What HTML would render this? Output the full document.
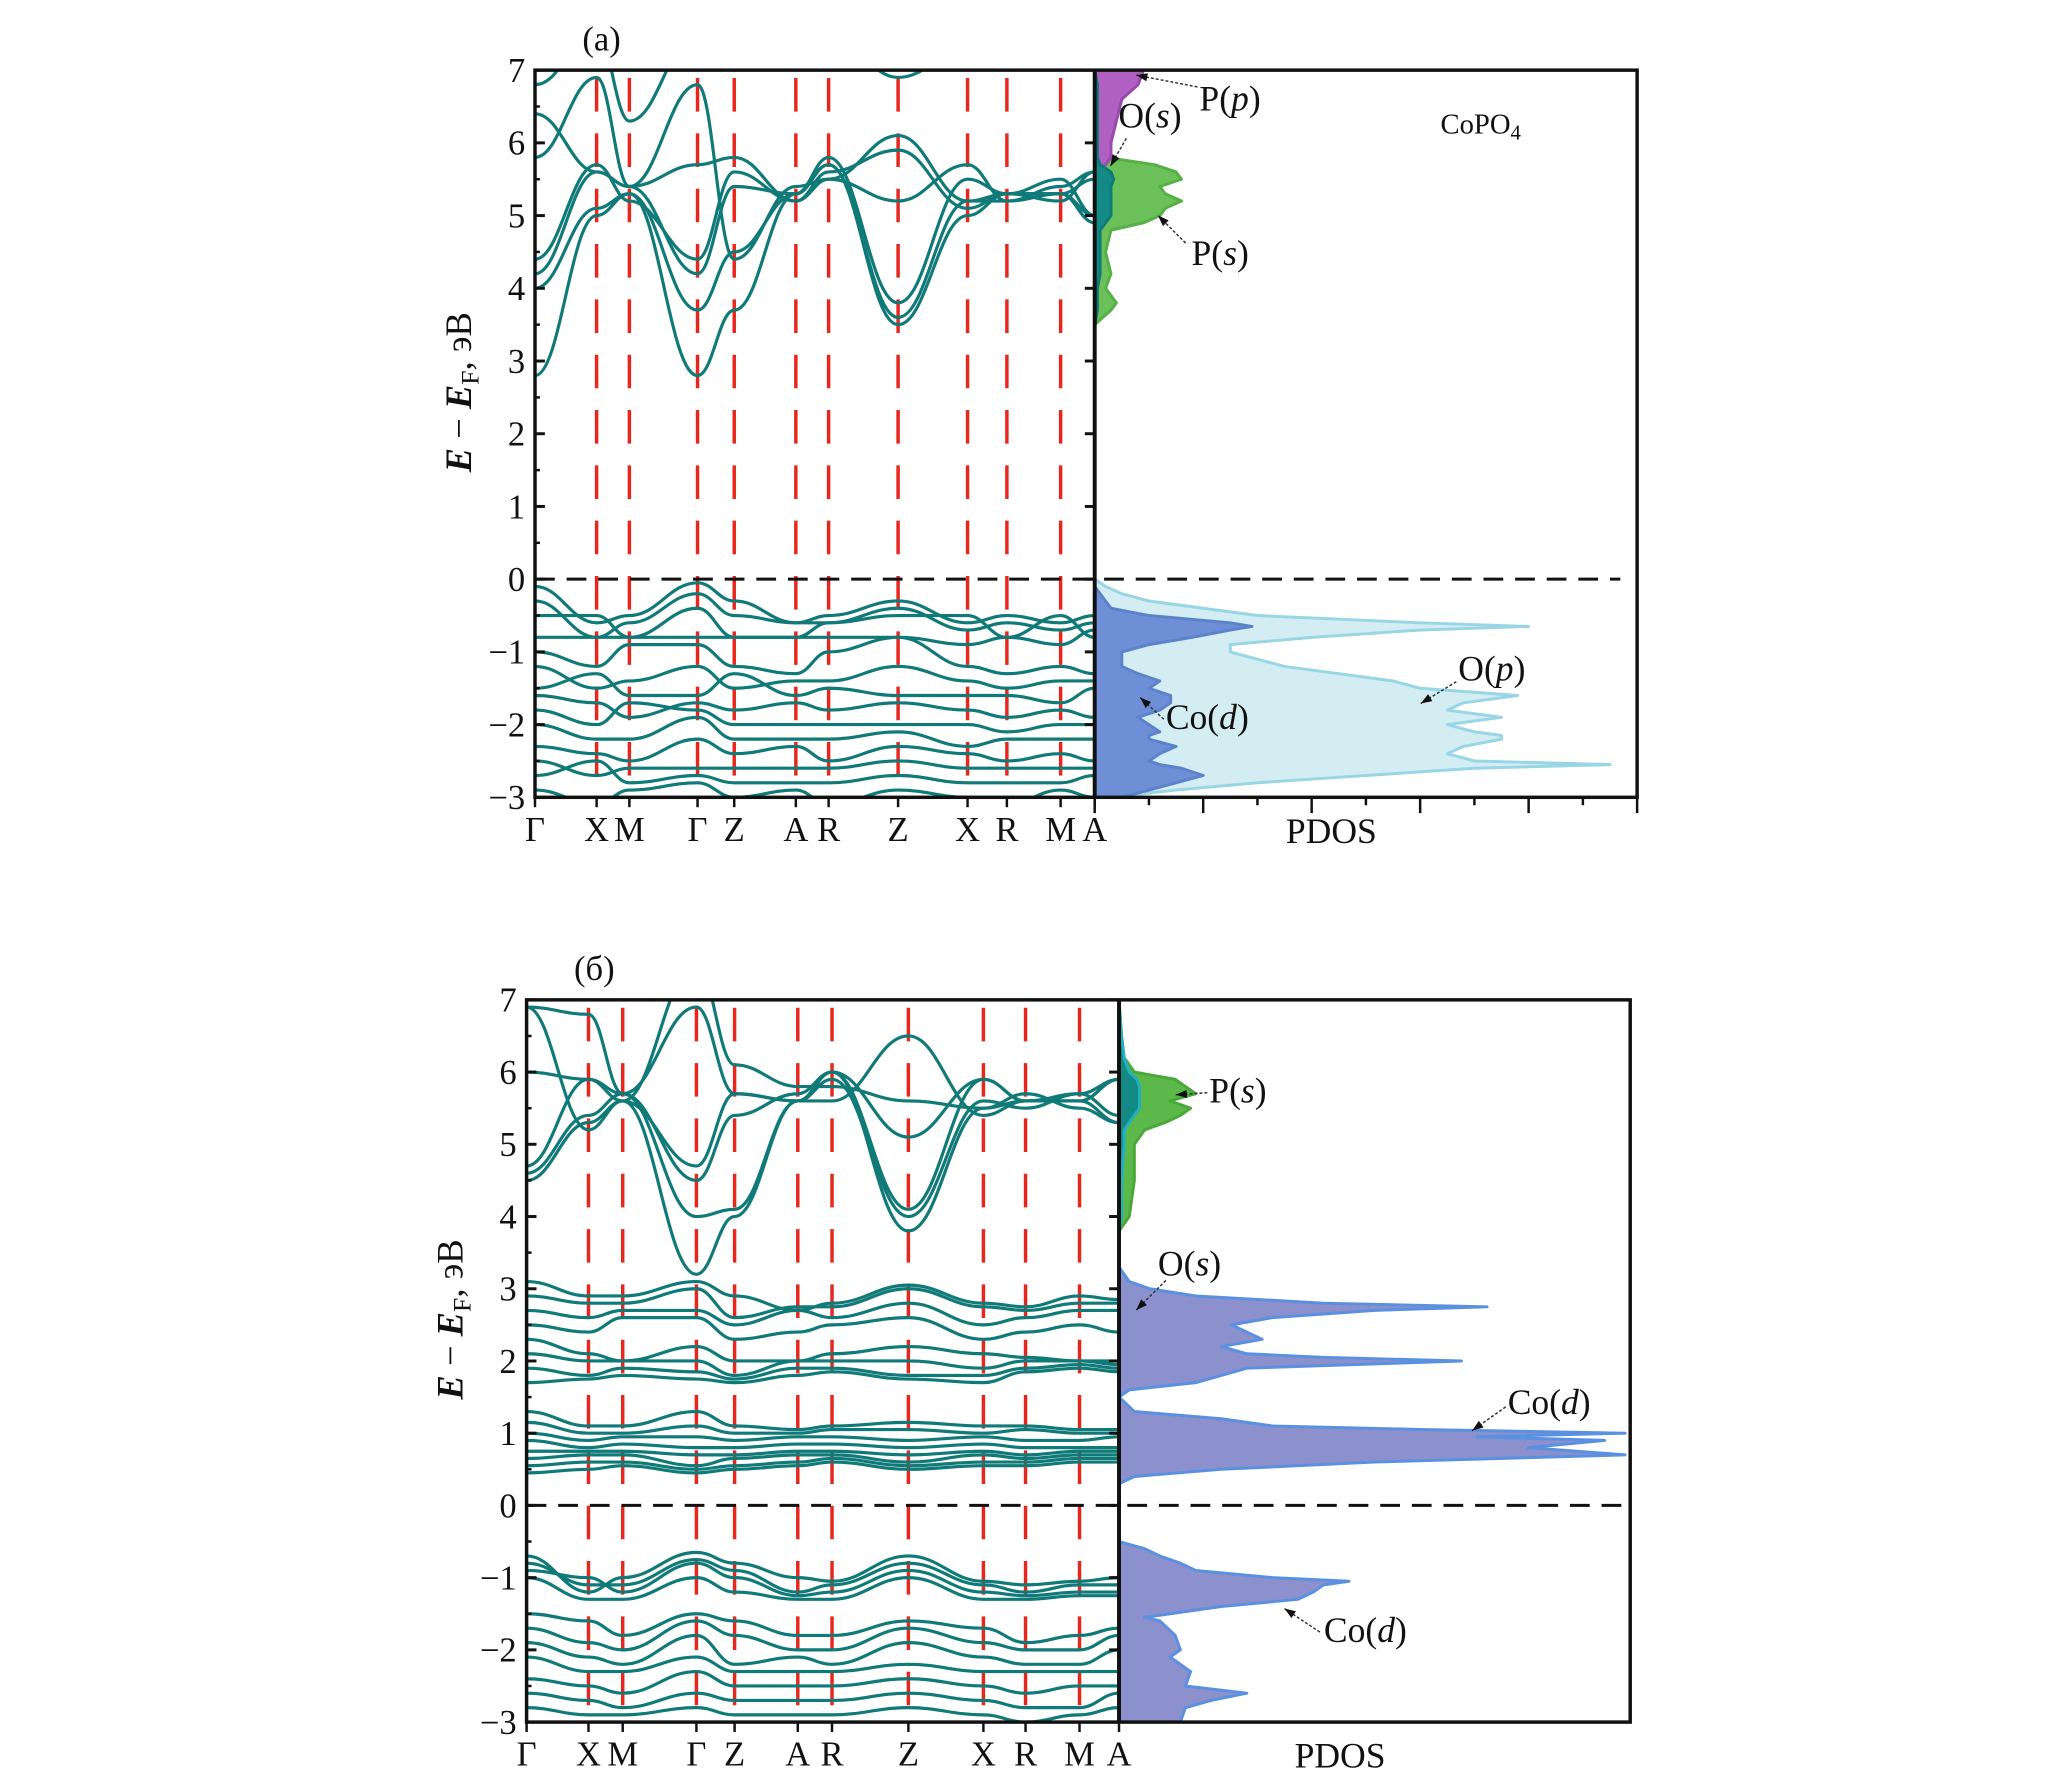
<!DOCTYPE html>
<html><head><meta charset="utf-8"><style>
html,body{margin:0;padding:0;background:#fff}
svg{display:block}
text{font-family:"Liberation Serif",serif;fill:#111}
</style></head><body>
<svg id="fig" width="2067" height="1792" viewBox="0 0 2067 1792" xmlns="http://www.w3.org/2000/svg"><g id="root" transform="scale(0.988)"></g></svg>
<script>
// ---------- DATA ----------
const kLabels = ["Γ","X","M","Γ","Z","A","R","Z","X","R","M","A"];
const kPosA = [0,47,72,124,152,199,224,277,330,360,401,427];
const kPosB = [0,47,73,129,158,206,232,290,347,379,420,450];
const yTicks = [-3,-2,-1,0,1,2,3,4,5,6,7];

const bandsA = [
 [2.8,5.0,5.3,2.8,3.7,5.3,5.7,3.5,5.0,5.3,5.3,5.0],
 [4.0,5.1,5.3,3.7,4.5,5.3,5.7,3.6,5.2,5.2,5.3,4.9],
 [4.2,5.6,5.4,4.2,5.4,5.3,5.8,3.8,5.5,5.3,5.2,5.6],
 [4.4,5.7,5.2,4.4,5.6,5.2,5.5,5.2,5.7,5.2,5.4,5.6],
 [5.8,6.9,5.4,6.8,4.4,5.4,5.5,6.1,5.2,5.3,5.3,5.5],
 [6.4,5.6,5.4,5.7,5.8,5.2,5.6,5.9,5.1,5.3,5.5,5.0],
 [6.8,7.5,6.3,7.5,7.0,7.5,7.5,6.9,7.3,7.1,7.3,7.0],
 [-0.1,-0.6,-0.5,-0.05,-0.3,-0.6,-0.5,-0.3,-0.6,-0.5,-0.6,-0.5],
 [-0.3,-0.8,-0.6,-0.2,-0.5,-0.6,-0.6,-0.4,-0.7,-0.6,-0.7,-0.6],
 [-0.5,-0.5,-0.8,-0.4,-0.8,-0.8,-0.6,-0.5,-0.5,-0.8,-0.5,-0.8],
 [-0.8,-0.8,-0.8,-0.8,-0.8,-0.8,-0.8,-0.8,-0.9,-0.8,-0.9,-0.7],
 [-1.0,-1.2,-0.9,-0.9,-1.2,-1.3,-1.0,-0.8,-1.2,-1.3,-1.2,-1.3],
 [-1.2,-1.5,-1.4,-1.2,-1.5,-1.4,-1.4,-1.2,-1.4,-1.5,-1.4,-1.4],
 [-1.5,-1.3,-1.6,-1.6,-1.3,-1.6,-1.5,-1.6,-1.6,-1.6,-1.7,-1.5],
 [-1.6,-1.7,-1.9,-1.7,-1.8,-1.7,-1.8,-1.7,-1.8,-1.9,-1.8,-1.9],
 [-1.8,-2.0,-1.7,-1.8,-2.0,-2.0,-2.0,-2.0,-2.0,-2.1,-2.0,-2.0],
 [-2.0,-2.2,-2.2,-1.9,-2.2,-2.2,-2.2,-2.1,-2.3,-2.2,-2.2,-2.2],
 [-2.3,-2.4,-2.5,-2.2,-2.4,-2.3,-2.5,-2.3,-2.4,-2.5,-2.4,-2.5],
 [-2.5,-2.7,-2.6,-2.6,-2.6,-2.6,-2.6,-2.5,-2.6,-2.6,-2.6,-2.6],
 [-2.7,-2.5,-2.8,-2.7,-2.8,-2.8,-2.8,-2.7,-2.8,-2.8,-2.8,-2.7],
 [-2.9,-3.1,-2.9,-2.8,-3.0,-2.9,-3.1,-2.9,-3.0,-3.1,-2.9,-3.0]
];
const bandsB = [
 [4.5,5.3,5.6,3.2,4.0,5.6,6.0,3.8,5.5,5.6,5.6,5.3],
 [4.6,5.4,5.7,4.0,4.1,5.6,5.9,4.0,5.6,5.5,5.7,5.4],
 [4.7,5.9,5.7,4.5,5.4,5.7,6.0,4.1,5.9,5.6,5.6,5.9],
 [6.0,5.9,5.6,4.7,5.7,5.6,6.0,5.1,5.9,5.6,5.7,5.9],
 [6.9,6.8,5.7,6.9,5.7,5.6,5.6,6.5,5.4,5.6,5.6,5.9],
 [6.9,5.2,5.6,7.5,6.1,5.8,5.8,5.6,5.5,5.7,5.5,5.3],
 [3.1,2.9,2.9,3.1,2.9,2.7,2.8,3.05,2.8,2.75,2.9,2.85],
 [2.9,2.8,2.8,3.0,2.6,2.75,2.75,3.0,2.75,2.7,2.8,2.8],
 [2.7,2.6,2.7,2.7,2.5,2.7,2.6,2.8,2.5,2.6,2.7,2.7],
 [2.5,2.4,2.6,2.6,2.3,2.4,2.5,2.6,2.3,2.4,2.5,2.4],
 [2.3,2.1,2.0,2.2,2.0,2.0,2.1,2.2,2.1,2.05,2.0,2.0],
 [2.1,2.0,2.0,2.0,1.8,2.0,2.0,2.0,1.9,2.0,2.0,1.95],
 [1.9,1.8,1.9,1.85,1.75,1.9,1.9,1.8,1.8,1.9,1.95,1.9],
 [1.7,1.75,1.8,1.75,1.7,1.8,1.85,1.75,1.7,1.85,1.9,1.85],
 [1.3,1.1,1.1,1.3,1.1,1.05,1.1,1.15,1.1,1.1,1.05,1.05],
 [1.15,1.0,1.0,1.1,1.0,1.0,1.05,1.05,1.0,1.05,1.0,1.0],
 [1.0,0.9,0.95,0.95,0.9,0.95,0.95,0.9,0.95,0.9,0.9,0.95],
 [0.9,0.8,0.85,0.8,0.8,0.85,0.85,0.8,0.85,0.8,0.8,0.8],
 [0.75,0.75,0.75,0.7,0.7,0.75,0.75,0.7,0.75,0.7,0.75,0.75],
 [0.65,0.7,0.7,0.55,0.65,0.7,0.7,0.6,0.7,0.65,0.7,0.7],
 [0.55,0.6,0.6,0.5,0.55,0.6,0.65,0.55,0.6,0.6,0.65,0.65],
 [0.45,0.5,0.55,0.45,0.5,0.55,0.6,0.5,0.55,0.55,0.6,0.6],
 [-0.7,-1.2,-1.0,-0.65,-0.8,-1.0,-1.05,-0.7,-1.05,-1.1,-1.05,-1.0],
 [-0.8,-1.1,-1.1,-0.75,-0.9,-1.2,-1.1,-0.8,-1.1,-1.2,-1.1,-1.1],
 [-0.9,-1.0,-1.2,-0.8,-1.0,-1.25,-1.2,-0.9,-1.2,-1.25,-1.2,-1.2],
 [-1.0,-1.3,-1.3,-1.0,-1.2,-1.3,-1.3,-1.0,-1.3,-1.3,-1.25,-1.25],
 [-1.5,-1.6,-1.8,-1.5,-1.6,-1.8,-1.8,-1.6,-1.7,-1.9,-1.8,-1.7],
 [-1.7,-1.9,-2.0,-1.6,-1.8,-2.0,-2.0,-1.7,-1.9,-2.0,-2.0,-1.8],
 [-1.9,-2.1,-2.2,-1.8,-2.2,-2.1,-2.2,-1.9,-2.1,-2.2,-2.2,-2.0],
 [-2.1,-2.3,-2.3,-2.1,-2.3,-2.3,-2.3,-2.2,-2.3,-2.3,-2.3,-2.3],
 [-2.4,-2.5,-2.6,-2.3,-2.5,-2.5,-2.5,-2.4,-2.5,-2.6,-2.5,-2.5],
 [-2.6,-2.7,-2.8,-2.6,-2.7,-2.7,-2.7,-2.6,-2.7,-2.8,-2.8,-2.6],
 [-2.8,-2.9,-2.9,-2.8,-2.9,-2.9,-2.9,-2.8,-2.9,-3.0,-2.9,-2.8]
];

const eValA = [-3,-2.9,-2.8,-2.7,-2.6,-2.55,-2.5,-2.4,-2.3,-2.2,-2.15,-2.1,-2.0,-1.9,-1.8,-1.7,-1.6,-1.5,-1.4,-1.3,-1.2,-1.1,-1.0,-0.9,-0.8,-0.7,-0.65,-0.6,-0.5,-0.4,-0.3,-0.2,-0.1,0];
const oPA  = [0.3,1.5,3,5,7,9.5,7,6.5,6.8,7.5,7.5,7,6.5,7.5,6.5,6.8,7.8,6,5.5,4.5,3.5,3,2.5,2.5,4,6,8,6,3,2,1,0.5,0.2,0];
const coDA = [0.5,1,1.5,2,1.6,1.2,1,1.2,1.5,1.0,1.0,1.2,1.0,0.8,1.2,1.4,1.4,1.0,1.2,0.8,0.5,0.5,0.5,1,1.8,2.5,2.9,2.5,1.0,0.3,0.2,0.1,0,0];
const eCondA = [3.5,3.7,3.8,4.0,4.2,4.5,4.8,4.9,5.0,5.1,5.2,5.3,5.4,5.5,5.6,5.7,5.8,6.0,6.3,6.6,6.8,7.0];
const pSA    = [0,0.3,0.4,0.2,0.3,0.2,0.3,0.9,1.2,1.3,1.6,1.3,1.2,1.6,1.5,1.1,0.2,0.1,0.1,0.1,0.1,0];
const pPA    = [0,0,0,0,0,0,0,0,0,0,0,0,0,0,0.1,0.2,0.3,0.3,0.4,0.5,0.8,0.9];
const oSA    = [0,0.05,0.05,0.05,0.1,0.1,0.1,0.2,0.3,0.3,0.3,0.3,0.3,0.35,0.3,0.1,0.05,0.05,0.05,0.05,0.05,0];
const eValB = [-3,-2.8,-2.7,-2.6,-2.5,-2.3,-2.1,-2.0,-1.8,-1.6,-1.55,-1.4,-1.3,-1.2,-1.1,-1.05,-1.0,-0.9,-0.8,-0.7,-0.6,-0.5,0.3,0.4,0.5,0.6,0.7,0.8,0.9,0.95,1.0,1.05,1.1,1.2,1.3,1.5,1.6,1.7,1.8,1.9,2.0,2.05,2.1,2.2,2.3,2.4,2.5,2.6,2.7,2.75,2.8,2.9,3.0,3.1,3.3];
const coDB  = [1.2,1.3,1.8,2.5,1.3,1.4,1.0,1.2,1.1,0.8,0.5,2.0,3.5,3.8,4.0,4.5,3.0,1.5,1.2,0.8,0.5,0,0,0.3,2,5,9.9,8,9.5,7,9.9,6,3,2,0.3,0,0.2,1.5,2,2.5,6.7,4,2.5,2,2.8,2.5,2.2,3,5,7.2,4,1.5,0.6,0.2,0];
const eCondB = [3.8,4.0,4.5,5.0,5.2,5.3,5.4,5.5,5.6,5.7,5.8,5.9,6.0,6.2,6.5,7.0];
const pSB    = [0,0.2,0.3,0.3,0.5,0.9,1.2,1.4,1.0,1.5,1.3,1.1,0.3,0.1,0.05,0];
const oSB    = [0,0.05,0.05,0.1,0.1,0.2,0.3,0.4,0.4,0.4,0.4,0.35,0.2,0.1,0.05,0];

// ---------- DRAW ----------
const NS="http://www.w3.org/2000/svg";
const svg=document.getElementById('root');
function mk(tag,attrs,parent){const e=document.createElementNS(NS,tag);for(const k in attrs)e.setAttribute(k,attrs[k]);(parent||svg).appendChild(e);return e;}
function txt(x,y,s,size,anchor,parent){const t=mk('text',{x:x,y:y,'font-size':size,'text-anchor':anchor||'start'},parent);t.innerHTML=s;return t;}

function panel(P){
  const g=mk('g',{});
  
  
  const ys=v=>P.top+(7-v)*(P.bot-P.top)/10;
  const xk=d=>P.left+d*(P.div-P.left)/P.kpos[P.kpos.length-1];
  const xd=v=>P.div+v*(P.right-P.div)/10;
  const cid='clip'+P.id;
  const cp=mk('clipPath',{id:cid},g);mk('rect',{x:P.left,y:P.top,width:P.div-P.left,height:P.bot-P.top},cp);
  const cid2='clipd'+P.id;
  const cp2=mk('clipPath',{id:cid2},g);mk('rect',{x:P.div,y:P.top,width:P.right-P.div,height:P.bot-P.top},cp2);
  for(let i=1;i<P.kpos.length-1;i++){
    const l=mk('line',{x1:xk(P.kpos[i]),x2:xk(P.kpos[i]),y1:P.top+8,y2:P.bot,stroke:'#e8271c','stroke-width':3.5,'stroke-dasharray':'34 22'},g);
    
    
  }
  const bg=mk('g',{'clip-path':'url(#'+cid+')'},g);
  P.bands.forEach(b=>{
    let d='M'+xk(P.kpos[0])+','+ys(b[0]);
    for(let i=1;i<b.length;i++){
      const x0=xk(P.kpos[i-1]),x1=xk(P.kpos[i]),m=(x1-x0)/2.4;
      d+=' C'+(x0+m)+','+ys(b[i-1])+' '+(x1-m)+','+ys(b[i])+' '+x1+','+ys(b[i]);
    }
    const p=mk('path',{d:d,fill:'none',stroke:'#0f7a78','stroke-width':3.2},bg);
    
    
  });
  const dg=mk('g',{'clip-path':'url(#'+cid2+')'},g);
  P.dos.forEach(s=>{
    let d='M'+xd(0)+','+ys(s.e[0]);
    s.e.forEach((e,i)=>{d+=' L'+xd(s.v[i])+','+ys(e);});
    d+=' L'+xd(0)+','+ys(s.e[s.e.length-1])+' Z';
    const p=mk('path',{d:d,fill:s.fill,stroke:s.stroke,'stroke-width':3,'stroke-linejoin':'round'},dg);
    
    
  });
  const f=mk('line',{x1:P.left,x2:P.fermiEnd,y1:ys(0),y2:ys(0),stroke:'#111','stroke-width':3,'stroke-dasharray':'20 12'},g);
  
  
  const fr=mk('rect',{x:P.left,y:P.top,width:P.right-P.left,height:P.bot-P.top,fill:'none',stroke:'#111','stroke-width':3.5},g);
  
  
  const dv=mk('line',{x1:P.div,x2:P.div,y1:P.top,y2:P.bot,stroke:'#111','stroke-width':4},g);
  
  
  yTicks.forEach(v=>{
    mk('line',{x1:P.left,x2:P.left+10,y1:ys(v),y2:ys(v),stroke:'#111','stroke-width':3},g);
    mk('line',{x1:P.div,x2:P.div-10,y1:ys(v),y2:ys(v),stroke:'#111','stroke-width':3},g);
    if(v<7){mk('line',{x1:P.left,x2:P.left+5,y1:ys(v+0.5),y2:ys(v+0.5),stroke:'#111','stroke-width':2.5},g);}
    const t=txt(P.left-10,ys(v)+12,(v<0?'−':'')+Math.abs(v),35,'end',g);
    
    
  });
  P.kpos.forEach((d,i)=>{
    mk('line',{x1:xk(d),x2:xk(d),y1:P.bot,y2:P.bot+10,stroke:'#111','stroke-width':2.5},g);
    const t=txt(xk(d),P.bot+44,kLabels[i],35,'middle',g);
    
    
  });
  if(P.dosTicks){
    for(let i=0;i<=10;i++){
      const x=P.div+i*(P.right-P.div)/10;
      mk('line',{x1:x,x2:x,y1:P.bot,y2:P.bot+(i%2?8:16),stroke:'#111','stroke-width':2.5},g);
    }
  }
  const pd=txt((P.div+P.right)/2-35,P.bot+46,'PDOS',36,'middle',g);
  
  
  const yt=mk('text',{x:0,y:0,'font-size':37,'text-anchor':'middle',transform:'translate('+(P.left-65)+','+((P.top+P.bot)/2-42)+') rotate(-90)'},g);
  yt.innerHTML='<tspan font-style="italic" font-weight="bold">E</tspan> − <tspan font-style="italic" font-weight="bold">E</tspan><tspan font-size="26" dy="8">F</tspan><tspan dy="-8">, эВ</tspan>';
  
  
  const pl=txt(P.left+48,P.top-20,P.label,35,'start',g);
  
  
  P.ann.forEach(a=>{
    mk('line',{x1:a.x1,y1:a.y1,x2:a.x2,y2:a.y2,stroke:'#333','stroke-width':1.5,'stroke-dasharray':'3 2'},g);
    const ang=Math.atan2(a.y2-a.y1,a.x2-a.x1),L=12;
    mk('polygon',{points:[a.x2,a.y2,a.x2-L*Math.cos(ang-0.35),a.y2-L*Math.sin(ang-0.35),a.x2-L*Math.cos(ang+0.35),a.y2-L*Math.sin(ang+0.35)].join(','),fill:'#111'},g);
    const t=txt(a.tx,a.ty,a.t,36,'start',g);
    
    
  });
  return g;
}

panel({id:'a',name:'panel-a',label:'(a)',left:541.5,div:1108,right:1657,top:71,bot:807,fermiEnd:1640,kpos:kPosA,bands:bandsA,dosTicks:true,
 dos:[
  {name:'o-p-pdos',e:eValA,v:oPA,fill:'#d3edf3',stroke:'#98d6e6'},
  {name:'co-d-pdos',e:eValA,v:coDA,fill:'#6e8fd6',stroke:'#5d82cc'},
  {name:'p-s-pdos',e:eCondA,v:pSA,fill:'#6cc05a',stroke:'#55b045'},
  {name:'p-p-pdos',e:eCondA,v:pPA,fill:'#b060c0',stroke:'#9a4aae'},
  {name:'o-s-pdos',e:eCondA,v:oSA,fill:'#138a86',stroke:'#0f7a78'}],
 ann:[
  {t:'P(<tspan font-style="italic">p</tspan>)',tx:1214,ty:112,x1:1212,y1:88,x2:1150,y2:76},
  {t:'O(<tspan font-style="italic">s</tspan>)',tx:1132,ty:129,x1:1140,y1:140,x2:1124,y2:168},
  {t:'P(<tspan font-style="italic">s</tspan>)',tx:1206,ty:268,x1:1200,y1:246,x2:1172,y2:218},
  {t:'O(<tspan font-style="italic">p</tspan>)',tx:1476,ty:689,x1:1474,y1:690,x2:1438,y2:712},
  {t:'Co(<tspan font-style="italic">d</tspan>)',tx:1180,ty:738,x1:1178,y1:728,x2:1154,y2:706}]
});
panel({id:'b',name:'panel-b',label:'(б)',left:533,div:1132.6,right:1650,top:1012,bot:1743,fermiEnd:1650,kpos:kPosB,bands:bandsB,dosTicks:false,
 dos:[
  {name:'co-d-pdos',e:eValB,v:coDB,fill:'#8c90cc',stroke:'#5a90e0'},
  {name:'p-s-pdos',e:eCondB,v:pSB,fill:'#5cb84a',stroke:'#48a838'},
  {name:'o-s-pdos',e:eCondB,v:oSB,fill:'#138a86',stroke:'#20b0c0'}],
 ann:[
  {t:'P(<tspan font-style="italic">s</tspan>)',tx:1224,ty:1116,x1:1222,y1:1106,x2:1190,y2:1108},
  {t:'O(<tspan font-style="italic">s</tspan>)',tx:1172,ty:1291,x1:1180,y1:1296,x2:1150,y2:1326},
  {t:'Co(<tspan font-style="italic">d</tspan>)',tx:1526,ty:1431,x1:1524,y1:1424,x2:1490,y2:1448},
  {t:'Co(<tspan font-style="italic">d</tspan>)',tx:1340,ty:1662,x1:1336,y1:1652,x2:1300,y2:1628}]
});
const c=txt(1458,135,'CoPO<tspan font-size="21" dy="6">4</tspan>',29,'start');


</script>
</body></html>
